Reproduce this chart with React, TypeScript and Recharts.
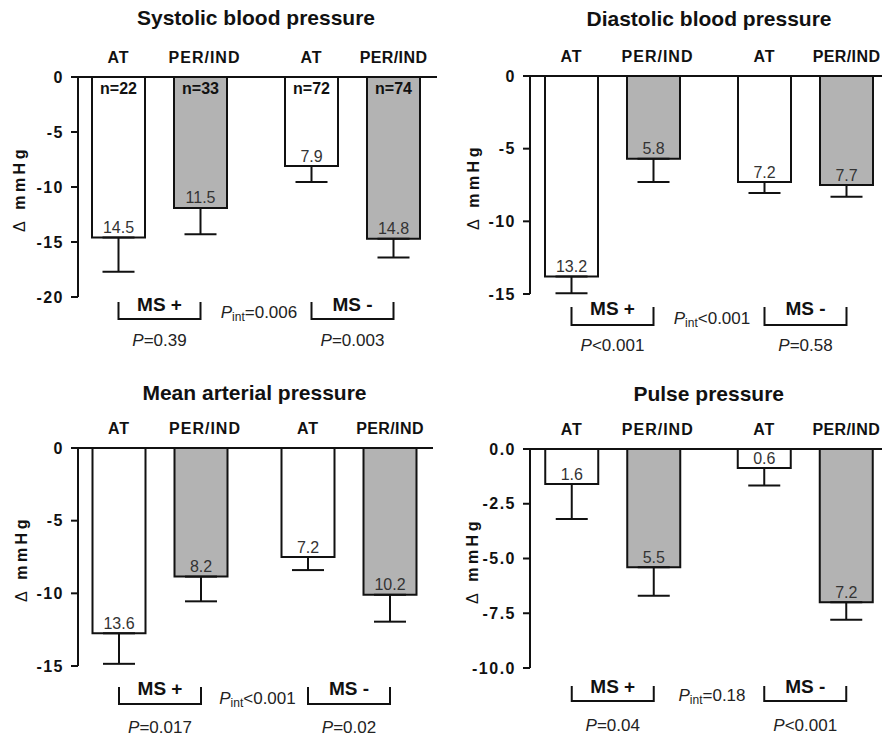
import React from "react";
import { BarChart, Bar, XAxis, YAxis, ErrorBar, LabelList } from "recharts";

const GROUPS = ["MS +", "MS -"];
const TREATMENTS = ["AT", "PER/IND"];

// Systolic blood pressure
const SBP_AT = [-14.6, -8.1];
const SBP_PER = [-11.9, -14.7];
const SBP_AT_ERR = [3.1, 1.45];
const SBP_PER_ERR = [2.4, 1.7];
const SBP_AT_LABELS = ["14.5", "7.9"];
const SBP_PER_LABELS = ["11.5", "14.8"];
const SBP_AT_N = ["n=22", "n=72"];
const SBP_PER_N = ["n=33", "n=74"];
const SBP_P = ["=0.39", "=0.003"];
const SBP_PINT = "=0.006";
const SBP_TICKS = [0, -5, -10, -15, -20];

// Diastolic blood pressure
const DBP_AT = [-13.8, -7.3];
const DBP_PER = [-5.7, -7.5];
const DBP_AT_ERR = [1.15, 0.75];
const DBP_PER_ERR = [1.6, 0.8];
const DBP_AT_LABELS = ["13.2", "7.2"];
const DBP_PER_LABELS = ["5.8", "7.7"];
const DBP_P = ["<0.001", "=0.58"];
const DBP_PINT = "<0.001";
const DBP_TICKS = [0, -5, -10, -15];

// Mean arterial pressure
const MAP_AT = [-12.75, -7.5];
const MAP_PER = [-8.85, -10.1];
const MAP_AT_ERR = [2.1, 0.9];
const MAP_PER_ERR = [1.7, 1.85];
const MAP_AT_LABELS = ["13.6", "7.2"];
const MAP_PER_LABELS = ["8.2", "10.2"];
const MAP_P = ["=0.017", "=0.02"];
const MAP_PINT = "<0.001";
const MAP_TICKS = [0, -5, -10, -15];

// Pulse pressure
const PP_AT = [-1.6, -0.87];
const PP_PER = [-5.4, -7.0];
const PP_AT_ERR = [1.6, 0.8];
const PP_PER_ERR = [1.3, 0.8];
const PP_AT_LABELS = ["1.6", "0.6"];
const PP_PER_LABELS = ["5.5", "7.2"];
const PP_P = ["=0.04", "<0.001"];
const PP_PINT = "=0.18";
const PP_TICKS = [0, -2.5, -5, -7.5, -10];

const BAR_SIZE = 53;
const BAR_GAP = 29;
const INK = "#111";
const GRAY = "#b3b3b3";
const FONT = '"Liberation Sans", Arial, Helvetica, sans-serif';
const W = 441;
const H = 368;

const panels = [
  {
    title: "Systolic blood pressure",
    at: SBP_AT, per: SBP_PER, atErr: SBP_AT_ERR, perErr: SBP_PER_ERR,
    atLabels: SBP_AT_LABELS, perLabels: SBP_PER_LABELS, atN: SBP_AT_N, perN: SBP_PER_N,
    p: SBP_P, pint: SBP_PINT, ticks: SBP_TICKS, decimals: 0,
    box: { left: 0, top: 0, axisX: 78, plotTop: 77, plotBottom: 297, plotRight: 437, c1: 159.5, gap: 193,
      titleBase: 25, yLabelX: 20, brTop: 5, brBot: 22, msY: 7, pY: 43, pintY: 15 },
  },
  {
    title: "Diastolic blood pressure",
    at: DBP_AT, per: DBP_PER, atErr: DBP_AT_ERR, perErr: DBP_PER_ERR,
    atLabels: DBP_AT_LABELS, perLabels: DBP_PER_LABELS, atN: null, perN: null,
    p: DBP_P, pint: DBP_PINT, ticks: DBP_TICKS, decimals: 0,
    box: { left: 441, top: 0, axisX: 89, plotTop: 76, plotBottom: 294, plotRight: 441, c1: 171.5, gap: 193,
      titleBase: 26, yLabelX: 33, brTop: 13, brBot: 31, msY: 14.5, pY: 50.5, pintY: 24 },
  },
  {
    title: "Mean arterial pressure",
    at: MAP_AT, per: MAP_PER, atErr: MAP_AT_ERR, perErr: MAP_PER_ERR,
    atLabels: MAP_AT_LABELS, perLabels: MAP_PER_LABELS, atN: null, perN: null,
    p: MAP_P, pint: MAP_PINT, ticks: MAP_TICKS, decimals: 0,
    box: { left: 0, top: 368, axisX: 78, plotTop: 80, plotBottom: 298, plotRight: 433, c1: 160, gap: 189,
      titleBase: 32, yLabelX: 22, brTop: 21, brBot: 38, msY: 22.5, pY: 60.5, pintY: 32 },
  },
  {
    title: "Pulse pressure",
    at: PP_AT, per: PP_PER, atErr: PP_AT_ERR, perErr: PP_PER_ERR,
    atLabels: PP_AT_LABELS, perLabels: PP_PER_LABELS, atN: null, perN: null,
    p: PP_P, pint: PP_PINT, ticks: PP_TICKS, decimals: 1,
    box: { left: 441, top: 368, axisX: 89, plotTop: 81, plotBottom: 300, plotRight: 441, c1: 171.5, gap: 192.5,
      titleBase: 33, yLabelX: 32, brTop: 18, brBot: 33, msY: 18.5, pY: 56.5, pintY: 26.5 },
  },
];

function makeLabel(panel: any, series: number) {
  const L = panel.box;
  const labels = series === 0 ? panel.atLabels : panel.perLabels;
  const ns = series === 0 ? panel.atN : panel.perN;
  return (props: any) => {
    const vb = props.viewBox || props;
    const x = Number(vb.x);
    const y = Number(vb.y);
    const w = Number(vb.width);
    const h = Number(vb.height);
    const i = Number(props.value);
    if (!Number.isFinite(x) || !Number.isFinite(i)) return null;
    const cx = x + w / 2;
    const zeroY = Math.min(y, y + h);
    const endY = Math.max(y, y + h);
    const step = BAR_SIZE + BAR_GAP;
    const gx = cx - step / 2;
    const by = L.plotBottom;
    // the last PER/IND label sits at the page edge in the right-hand panels
    const lastPer = series === 1 && i === 1;
    const catDx = series === 1 ? (lastPer ? 0 : 4) : 0;
    return (
      <g>
        <text x={cx + catDx} y={zeroY - 19.5} textAnchor="middle" dominantBaseline="central"
          fontSize={16} fontWeight="bold" letterSpacing={lastPer ? 0.4 : 1} fill={INK}>
          {TREATMENTS[series]}
        </text>
        {ns && (
          <text x={cx} y={zeroY + 11.5} textAnchor="middle" dominantBaseline="central"
            fontSize={16} fontWeight="bold" fill={INK}>
            {ns[i]}
          </text>
        )}
        <text x={cx} y={endY - 10} textAnchor="middle" dominantBaseline="central" fontSize={16} fill="#333">
          {labels[i]}
        </text>
        {series === 1 && (
          <g>
            <path d={`M${cx - step},${by + L.brTop}V${by + L.brBot}H${cx}V${by + L.brTop}`}
              fill="none" stroke={INK} strokeWidth={2} />
            <text x={gx} y={by + L.msY} textAnchor="middle" dominantBaseline="central"
              fontSize={19} fontWeight="bold" fill={INK}>
              {GROUPS[i]}
            </text>
            <text x={gx} y={by + L.pY} textAnchor="middle" dominantBaseline="central" fontSize={17} fill="#222">
              <tspan fontStyle="italic">P</tspan>
              <tspan>{panel.p[i]}</tspan>
            </text>
            {i === 0 && (
              <text x={gx + L.gap / 2 + 3} y={by + L.pintY} textAnchor="middle" dominantBaseline="central"
                fontSize={17} fill="#222">
                <tspan fontStyle="italic">P</tspan>
                <tspan fontSize={12} dy={5}>int</tspan>
                <tspan dy={-5}>{panel.pint}</tspan>
              </text>
            )}
          </g>
        )}
      </g>
    );
  };
}

function Panel({ panel }: { panel: any }) {
  const L = panel.box;
  const data = GROUPS.map((g, i) => ({
    group: g,
    at: panel.at[i],
    per: panel.per[i],
    atErr: [panel.atErr[i], 0],
    perErr: [panel.perErr[i], 0],
    idx: String(i),
  }));
  const padL = L.c1 - L.gap / 2 - L.axisX;
  const padR = L.plotRight - (L.c1 + 1.5 * L.gap);
  const axisH = 20;
  const domainMin = panel.ticks[panel.ticks.length - 1];
  return (
    <div style={{ position: "absolute", left: L.left, top: L.top, width: W, height: H }}>
      <div style={{ position: "absolute", left: L.c1 + L.gap / 2 - 200, width: 400, top: L.titleBase - 18,
        textAlign: "center", fontSize: 21, lineHeight: "21px", fontWeight: "bold", color: INK, whiteSpace: "nowrap" }}>
        {panel.title}
      </div>
      <div style={{ position: "absolute", left: L.yLabelX, top: (L.plotTop + L.plotBottom) / 2 + 2,
        transform: "translate(-50%, -50%) rotate(-90deg)", fontSize: 16, fontWeight: "bold",
        letterSpacing: 3.5, whiteSpace: "nowrap", color: INK }}>
        <span style={{ fontWeight: "normal" }}>Δ</span> mmHg
      </div>
      <BarChart width={W} height={H} data={data} barGap={BAR_GAP}
        margin={{ top: L.plotTop - axisH, right: W - L.plotRight, bottom: H - L.plotBottom, left: 0 }}
        style={{ position: "absolute", left: 0, top: 0 }}>
        <XAxis dataKey="group" type="category" orientation="top" height={axisH} tick={false} tickLine={false}
          axisLine={{ stroke: INK, strokeWidth: 2 }} padding={{ left: padL, right: padR }} />
        <YAxis type="number" domain={[domainMin, 0]} ticks={panel.ticks} interval={0} width={L.axisX}
          tickSize={7} tickMargin={7} allowDataOverflow
          tickFormatter={(v: number) => (panel.decimals ? v.toFixed(panel.decimals) : String(v))}
          axisLine={{ stroke: INK, strokeWidth: 2 }} tickLine={{ stroke: INK, strokeWidth: 2 }}
          tick={{ fill: INK, fontSize: 16, fontWeight: "bold", letterSpacing: 1.5 }} />
        <Bar dataKey="at" barSize={BAR_SIZE} fill="#fff" stroke={INK} strokeWidth={2} isAnimationActive={false}>
          <ErrorBar dataKey="atErr" width={16} stroke={INK} strokeWidth={2} />
          <LabelList dataKey="idx" content={makeLabel(panel, 0)} />
        </Bar>
        <Bar dataKey="per" barSize={BAR_SIZE} fill={GRAY} stroke={INK} strokeWidth={2} isAnimationActive={false}>
          <ErrorBar dataKey="perErr" width={16} stroke={INK} strokeWidth={2} />
          <LabelList dataKey="idx" content={makeLabel(panel, 1)} />
        </Bar>
      </BarChart>
    </div>
  );
}

export default function App() {
  return (
    <div style={{ position: "absolute", left: 0, top: 0, width: 882, height: 736, overflow: "hidden",
      background: "#fff", fontFamily: FONT }}>
      {panels.map((p) => (
        <Panel key={p.title} panel={p} />
      ))}
    </div>
  );
}
